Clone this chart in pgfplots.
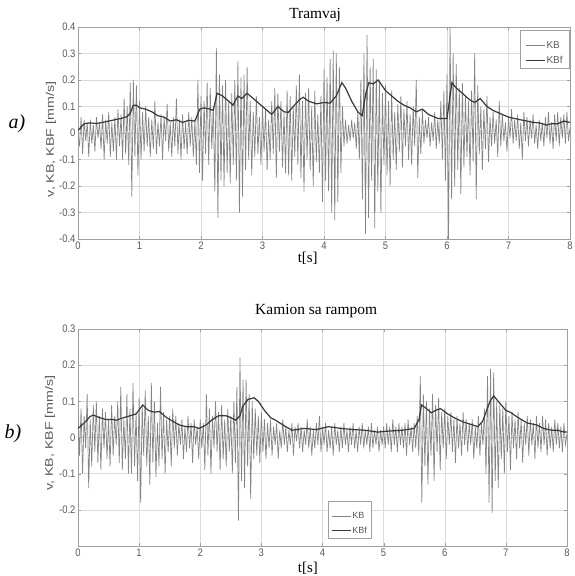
\documentclass[border=0pt]{standalone}
\usepackage{pgfplots}
\pgfplotsset{compat=1.18}
\usepackage{graphicx}
\usepackage{fontspec}
\setmainfont{Liberation Serif}
\setsansfont{Liberation Sans}

\definecolor{kbgray}{gray}{0.52}
\definecolor{kbfdark}{gray}{0.22}
\definecolor{gridgray}{gray}{0.86}
\definecolor{tickgray}{gray}{0.35}

\pgfplotsset{
  vib/.style={
    scale only axis,
    xmin=0, xmax=8, xtick={0,1,2,3,4,5,6,7,8},
    grid=major, major grid style={gridgray, line width=0.5pt},
    axis line style={gray!75}, tick style={gray!75}, tick align=inside,
    major tick length=3bp,
    /pgf/number format/assume math mode=true,
    ticklabel style={font=\sffamily\fontsize{9.5}{10}\selectfont, text=tickgray},
    xticklabel={\scalebox{1}[1.15]{\pgfmathprintnumber{\tick}}},
    yticklabel={\scalebox{1}[1.15]{\pgfmathprintnumber{\tick}}},
    xticklabel style={yshift=1bp},
    yticklabel style={xshift=1bp},
    title style={font=\fontsize{15.5}{17}\selectfont},
    xlabel={t[s]},
    xlabel style={font=\fontsize{15}{16}\selectfont, anchor=center},
    ylabel={\scalebox{1.3}[1]{v, KB, KBF [mm/s]}},
    ylabel style={font=\sffamily\fontsize{11}{12}\selectfont, text=tickgray, anchor=center},
    legend cell align=left,
    legend image code/.code={\draw[##1] (0bp,0bp) -- (19bp,0bp);},
    legend style={draw=gray!75, text=tickgray, inner xsep=5bp, inner ysep=2bp,
      row sep=4bp, nodes={inner sep=1.2bp}},
  },
  kb/.style={color=kbgray, line width=0.7pt, mark=none},
  kbf/.style={color=kbfdark, line width=1.2pt, mark=none},
}

\begin{document}
\begin{tikzpicture}
\useasboundingbox (0,0) rectangle (575bp,-576bp);

% ---------------- a) Tramvaj ----------------
\begin{axis}[vib,
  at={(78bp,-27bp)}, anchor=north west,
  width=492bp, height=212bp,
  ymin=-0.4, ymax=0.4,
  ytick={-0.4,-0.3,-0.2,-0.1,0,0.1,0.2,0.3,0.4},
  title={Tramvaj},
  title style={at={(axis description cs:0.482,1)}, anchor=center, yshift=6bp},
  xlabel style={at={(axis description cs:0.467,0)}, yshift=-19bp},
  ylabel style={at={(axis description cs:-0.055,0.47)}},
  legend style={at={(0.998,0.986)}, anchor=north east,
    font=\sffamily\fontsize{10}{11}\selectfont},
]
\addlegendimage{empty legend}\addlegendentry{}
\addplot[kb] coordinates {
(0,0.00)(0.025,-0.05)(0.05,0.06)(0.075,-0.08)(0.1,0.05)(0.125,-0.03)(0.15,0.04)(0.175,-0.09)
(0.2,0.05)(0.225,-0.04)(0.25,0.03)(0.275,-0.07)(0.3,0.06)(0.325,-0.02)(0.35,0.04)(0.375,-0.06)
(0.4,0.07)(0.425,-0.10)(0.45,0.05)(0.475,-0.04)(0.5,0.08)(0.525,-0.09)(0.55,0.04)(0.575,-0.07)
(0.6,0.06)(0.625,-0.10)(0.65,0.09)(0.675,-0.05)(0.7,0.07)(0.725,-0.10)(0.75,0.13)(0.775,-0.08)
(0.8,0.10)(0.825,-0.12)(0.85,0.19)(0.875,-0.24)(0.9,0.20)(0.925,-0.09)(0.95,0.18)(0.975,-0.16)
(1,0.12)(1.025,-0.10)(1.05,0.08)(1.075,-0.07)(1.1,0.10)(1.125,-0.05)(1.15,0.06)(1.175,-0.09)
(1.2,0.05)(1.225,-0.06)(1.25,0.12)(1.275,-0.08)(1.3,0.04)(1.325,-0.05)(1.35,0.07)(1.375,-0.10)
(1.4,0.06)(1.425,-0.03)(1.45,0.11)(1.475,-0.07)(1.5,0.04)(1.525,-0.09)(1.55,0.06)(1.575,-0.05)
(1.6,0.13)(1.625,-0.08)(1.65,0.05)(1.675,-0.10)(1.7,0.07)(1.725,-0.06)(1.75,0.04)(1.775,-0.08)
(1.8,0.08)(1.825,-0.05)(1.85,0.06)(1.875,-0.09)(1.9,0.05)(1.925,-0.12)(1.95,0.20)(1.975,-0.15)
(2,0.14)(2.025,-0.18)(2.05,0.12)(2.075,-0.08)(2.1,0.19)(2.125,-0.12)(2.15,0.17)(2.175,-0.06)
(2.2,0.10)(2.225,-0.22)(2.25,0.32)(2.275,-0.32)(2.3,0.22)(2.325,-0.18)(2.35,0.18)(2.375,-0.20)
(2.4,0.20)(2.425,-0.15)(2.45,0.12)(2.475,-0.19)(2.5,0.15)(2.525,-0.12)(2.55,0.20)(2.575,-0.18)
(2.6,0.27)(2.625,-0.30)(2.65,0.21)(2.675,-0.24)(2.7,0.22)(2.725,-0.14)(2.75,0.25)(2.775,-0.10)
(2.8,0.12)(2.825,-0.16)(2.85,0.08)(2.875,-0.09)(2.9,0.14)(2.925,-0.08)(2.95,0.06)(2.975,-0.12)
(3,0.10)(3.025,-0.07)(3.05,0.09)(3.075,-0.14)(3.1,0.05)(3.125,-0.10)(3.15,0.12)(3.175,-0.08)
(3.2,0.17)(3.225,-0.17)(3.25,0.15)(3.275,-0.07)(3.3,0.12)(3.325,-0.13)(3.35,0.08)(3.375,-0.15)
(3.4,0.16)(3.425,-0.16)(3.45,0.14)(3.475,-0.18)(3.5,0.10)(3.525,-0.09)(3.55,0.18)(3.575,-0.12)
(3.6,0.22)(3.625,-0.17)(3.65,0.12)(3.675,-0.22)(3.7,0.15)(3.725,-0.10)(3.75,0.17)(3.775,-0.14)
(3.8,0.10)(3.825,-0.20)(3.85,0.16)(3.875,-0.11)(3.9,0.07)(3.925,-0.15)(3.95,0.14)(3.975,-0.26)
(4,0.24)(4.025,-0.18)(4.05,0.21)(4.075,-0.22)(4.1,0.28)(4.125,-0.30)(4.15,0.31)(4.175,-0.33)
(4.2,0.30)(4.225,-0.26)(4.25,0.25)(4.275,-0.15)(4.3,0.10)(4.325,-0.05)(4.35,0.05)(4.375,-0.04)
(4.4,0.03)(4.425,-0.03)(4.45,0.05)(4.475,-0.02)(4.5,0.04)(4.525,-0.06)(4.55,0.08)(4.575,-0.10)
(4.6,0.20)(4.625,-0.25)(4.65,0.30)(4.675,-0.38)(4.7,0.37)(4.725,-0.32)(4.75,0.25)(4.775,-0.18)
(4.8,0.28)(4.825,-0.36)(4.85,0.24)(4.875,-0.22)(4.9,0.20)(4.925,-0.30)(4.95,0.15)(4.975,-0.12)
(5,0.18)(5.025,-0.16)(5.05,0.12)(5.075,-0.20)(5.1,0.16)(5.125,-0.10)(5.15,0.08)(5.175,-0.14)
(5.2,0.11)(5.225,-0.07)(5.25,0.14)(5.275,-0.13)(5.3,0.09)(5.325,-0.05)(5.35,0.12)(5.375,-0.10)
(5.4,0.07)(5.425,-0.12)(5.45,0.10)(5.475,-0.05)(5.5,0.20)(5.525,-0.17)(5.55,0.06)(5.575,-0.08)
(5.6,0.09)(5.625,-0.04)(5.65,0.05)(5.675,-0.02)(5.7,0.06)(5.725,-0.05)(5.75,0.04)(5.775,-0.03)
(5.8,0.08)(5.825,-0.06)(5.85,0.05)(5.875,-0.04)(5.9,0.12)(5.925,-0.10)(5.95,0.16)(5.975,-0.18)
(6,0.22)(6.025,-0.40)(6.05,0.40)(6.075,-0.25)(6.1,0.30)(6.125,-0.20)(6.15,0.26)(6.175,-0.14)
(6.2,0.17)(6.225,-0.23)(6.25,0.19)(6.275,-0.13)(6.3,0.14)(6.325,-0.09)(6.35,0.12)(6.375,-0.16)
(6.4,0.16)(6.425,-0.11)(6.45,0.30)(6.475,-0.25)(6.5,0.18)(6.525,-0.08)(6.55,0.10)(6.575,-0.14)
(6.6,0.09)(6.625,-0.06)(6.65,0.14)(6.675,-0.11)(6.7,0.06)(6.725,-0.05)(6.75,0.08)(6.775,-0.04)
(6.8,0.05)(6.825,-0.09)(6.85,0.12)(6.875,-0.05)(6.9,0.07)(6.925,-0.03)(6.95,0.04)(6.975,-0.07)
(7,0.06)(7.025,-0.02)(7.05,0.09)(7.075,-0.04)(7.1,0.05)(7.125,-0.03)(7.15,0.07)(7.175,-0.06)
(7.2,0.04)(7.225,-0.10)(7.25,0.08)(7.275,-0.03)(7.3,0.06)(7.325,-0.05)(7.35,0.05)(7.375,-0.02)
(7.4,0.07)(7.425,-0.04)(7.45,0.03)(7.475,-0.06)(7.5,0.05)(7.525,-0.03)(7.55,0.04)(7.575,-0.05)
(7.6,0.06)(7.625,-0.02)(7.65,0.08)(7.675,-0.04)(7.7,0.04)(7.725,-0.06)(7.75,0.07)(7.775,-0.03)
(7.8,0.08)(7.825,-0.05)(7.85,0.06)(7.875,-0.02)(7.9,0.07)(7.925,-0.04)(7.95,0.08)(7.975,-0.03)
(8,0.02)
};
\addlegendentry{KB}
\addplot[kbf] coordinates {
(0,0.01)(0.1,0.035)(0.2,0.038)(0.3,0.036)(0.4,0.04)(0.5,0.045)(0.6,0.05)(0.7,0.055)
(0.8,0.062)(0.85,0.075)(0.9,0.105)(0.95,0.105)(1.0,0.095)(1.1,0.09)(1.2,0.08)(1.3,0.065)
(1.4,0.06)(1.5,0.045)(1.6,0.05)(1.7,0.04)(1.8,0.048)(1.9,0.045)(1.98,0.09)(2.05,0.095)
(2.15,0.09)(2.2,0.085)(2.26,0.15)(2.35,0.14)(2.45,0.12)(2.52,0.105)(2.6,0.14)(2.66,0.13)
(2.75,0.15)(2.85,0.13)(2.95,0.11)(3.05,0.09)(3.15,0.07)(3.25,0.1)(3.35,0.08)(3.42,0.078)
(3.5,0.1)(3.6,0.125)(3.66,0.135)(3.75,0.12)(3.88,0.11)(4.0,0.115)(4.1,0.113)(4.2,0.14)
(4.29,0.19)(4.35,0.17)(4.45,0.12)(4.55,0.08)(4.62,0.065)(4.68,0.15)(4.73,0.19)(4.8,0.185)
(4.88,0.2)(5.0,0.16)(5.1,0.14)(5.2,0.12)(5.3,0.105)(5.4,0.095)(5.5,0.08)(5.6,0.09)
(5.7,0.07)(5.85,0.055)(6.0,0.055)(6.08,0.19)(6.15,0.17)(6.25,0.15)(6.37,0.125)(6.45,0.115)
(6.54,0.13)(6.65,0.1)(6.75,0.085)(6.9,0.07)(7.0,0.06)(7.19,0.05)(7.3,0.045)(7.4,0.04)
(7.5,0.038)(7.62,0.03)(7.7,0.035)(7.8,0.035)(7.9,0.045)(8.0,0.04)
};
\addlegendentry{KBf}
\end{axis}

% ---------------- b) Kamion sa rampom ----------------
\begin{axis}[vib,
  at={(78bp,-329bp)}, anchor=north west,
  width=489bp, height=217bp,
  ymin=-0.3, ymax=0.3,
  ytick={-0.2,-0.1,0,0.1,0.2,0.3},
  title={Kamion sa rampom},
  title style={at={(axis description cs:0.487,1)}, anchor=center, yshift=12bp},
  xlabel style={at={(axis description cs:0.470,0)}, yshift=-22bp},
  ylabel style={at={(axis description cs:-0.057,0.52)}},
  legend style={at={(0.511,0.037)}, anchor=south west,
    font=\sffamily\fontsize{9}{10}\selectfont, inner xsep=3bp},
]
\addlegendimage{empty legend}\addlegendentry{}
\addplot[kb] coordinates {
(0,0.07)(0.025,-0.05)(0.05,0.08)(0.075,-0.10)(0.1,0.06)(0.125,-0.03)(0.15,0.12)(0.175,-0.14)
(0.2,0.05)(0.225,-0.08)(0.25,0.09)(0.275,-0.04)(0.3,0.10)(0.325,-0.07)(0.35,0.06)(0.375,-0.09)
(0.4,0.08)(0.425,-0.03)(0.45,0.07)(0.475,-0.06)(0.5,0.05)(0.525,-0.08)(0.55,0.09)(0.575,-0.05)
(0.6,0.06)(0.625,-0.02)(0.65,0.10)(0.675,-0.07)(0.7,0.14)(0.725,-0.09)(0.75,0.05)(0.775,-0.06)
(0.8,0.12)(0.825,-0.10)(0.85,0.08)(0.875,-0.10)(0.9,0.15)(0.925,-0.08)(0.95,0.07)(0.975,-0.12)
(1,0.11)(1.025,-0.18)(1.05,0.09)(1.075,-0.05)(1.1,0.13)(1.125,-0.08)(1.15,0.06)(1.175,-0.13)
(1.2,0.15)(1.225,-0.07)(1.25,0.10)(1.275,-0.11)(1.3,0.04)(1.325,-0.08)(1.35,0.14)(1.375,-0.06)
(1.4,0.07)(1.425,-0.10)(1.45,0.05)(1.475,-0.04)(1.5,0.06)(1.525,-0.08)(1.55,0.08)(1.575,-0.03)
(1.6,0.06)(1.625,-0.05)(1.65,0.04)(1.675,-0.02)(1.7,0.05)(1.725,-0.06)(1.75,0.03)(1.775,-0.04)
(1.8,0.06)(1.825,-0.03)(1.85,0.04)(1.875,-0.07)(1.9,0.05)(1.925,-0.02)(1.95,0.03)(1.975,-0.06)
(2,0.05)(2.025,-0.03)(2.05,0.04)(2.075,-0.09)(2.1,0.12)(2.125,-0.05)(2.15,0.08)(2.175,-0.10)
(2.2,0.06)(2.225,-0.03)(2.25,0.10)(2.275,-0.04)(2.3,0.07)(2.325,-0.09)(2.35,0.09)(2.375,-0.06)
(2.4,0.05)(2.425,-0.08)(2.45,0.08)(2.475,-0.04)(2.5,0.06)(2.525,-0.10)(2.55,0.10)(2.575,-0.07)
(2.6,0.14)(2.625,-0.23)(2.65,0.22)(2.675,-0.12)(2.7,0.16)(2.725,-0.14)(2.75,0.16)(2.775,-0.08)
(2.8,0.12)(2.825,-0.17)(2.85,0.10)(2.875,-0.06)(2.9,0.08)(2.925,-0.05)(2.95,0.06)(2.975,-0.07)
(3,0.07)(3.025,-0.04)(3.05,0.05)(3.075,-0.06)(3.1,0.04)(3.125,-0.03)(3.15,0.05)(3.175,-0.05)
(3.2,0.03)(3.225,-0.02)(3.25,0.04)(3.275,-0.06)(3.3,0.02)(3.325,-0.03)(3.35,0.05)(3.375,-0.02)
(3.4,0.03)(3.425,-0.04)(3.45,0.02)(3.475,-0.02)(3.5,0.04)(3.525,-0.05)(3.55,0.03)(3.575,-0.01)
(3.6,0.04)(3.625,-0.03)(3.65,0.03)(3.675,-0.04)(3.7,0.02)(3.725,-0.02)(3.75,0.05)(3.775,-0.03)
(3.8,0.03)(3.825,-0.05)(3.85,0.02)(3.875,-0.03)(3.9,0.04)(3.925,-0.02)(3.95,0.06)(3.975,-0.04)
(4,0.03)(4.025,-0.02)(4.05,0.04)(4.075,-0.04)(4.1,0.02)(4.125,-0.03)(4.15,0.03)(4.175,-0.05)
(4.2,0.04)(4.225,-0.02)(4.25,0.02)(4.275,-0.04)(4.3,0.03)(4.325,-0.03)(4.35,0.04)(4.375,-0.02)
(4.4,0.02)(4.425,-0.04)(4.45,0.03)(4.475,-0.02)(4.5,0.04)(4.525,-0.03)(4.55,0.02)(4.575,-0.04)
(4.6,0.03)(4.625,-0.02)(4.65,0.04)(4.675,-0.03)(4.7,0.02)(4.725,-0.02)(4.75,0.03)(4.775,-0.04)
(4.8,0.04)(4.825,-0.03)(4.85,0.02)(4.875,-0.02)(4.9,0.03)(4.925,-0.04)(4.95,0.02)(4.975,-0.02)
(5,0.03)(5.025,-0.03)(5.05,0.04)(5.075,-0.02)(5.1,0.03)(5.125,-0.04)(5.15,0.05)(5.175,-0.02)
(5.2,0.03)(5.225,-0.04)(5.25,0.04)(5.275,-0.02)(5.3,0.03)(5.325,-0.03)(5.35,0.04)(5.375,-0.05)
(5.4,0.05)(5.425,-0.02)(5.45,0.03)(5.475,-0.04)(5.5,0.04)(5.525,-0.03)(5.55,0.06)(5.575,-0.05)
(5.6,0.17)(5.625,-0.18)(5.65,0.12)(5.675,-0.08)(5.7,0.10)(5.725,-0.13)(5.75,0.08)(5.775,-0.05)
(5.8,0.12)(5.825,-0.12)(5.85,0.09)(5.875,-0.04)(5.9,0.11)(5.925,-0.09)(5.95,0.07)(5.975,-0.03)
(6,0.08)(6.025,-0.06)(6.05,0.06)(6.075,-0.02)(6.1,0.07)(6.125,-0.04)(6.15,0.05)(6.175,-0.07)
(6.2,0.06)(6.225,-0.03)(6.25,0.04)(6.275,-0.05)(6.3,0.07)(6.325,-0.02)(6.35,0.05)(6.375,-0.04)
(6.4,0.04)(6.425,-0.02)(6.45,0.05)(6.475,-0.06)(6.5,0.03)(6.525,-0.03)(6.55,0.06)(6.575,-0.05)
(6.6,0.04)(6.625,-0.02)(6.65,0.08)(6.675,-0.10)(6.7,0.17)(6.725,-0.18)(6.75,0.19)(6.775,-0.21)
(6.8,0.18)(6.825,-0.12)(6.85,0.10)(6.875,-0.14)(6.9,0.09)(6.925,-0.06)(6.95,0.08)(6.975,-0.10)
(7,0.10)(7.025,-0.04)(7.05,0.06)(7.075,-0.09)(7.1,0.07)(7.125,-0.03)(7.15,0.05)(7.175,-0.06)
(7.2,0.07)(7.225,-0.03)(7.25,0.05)(7.275,-0.07)(7.3,0.04)(7.325,-0.02)(7.35,0.06)(7.375,-0.05)
(7.4,0.05)(7.425,-0.02)(7.45,0.04)(7.475,-0.06)(7.5,0.06)(7.525,-0.03)(7.55,0.04)(7.575,-0.04)
(7.6,0.06)(7.625,-0.02)(7.65,0.05)(7.675,-0.05)(7.7,0.04)(7.725,-0.03)(7.75,0.03)(7.775,-0.04)
(7.8,0.05)(7.825,-0.02)(7.85,0.04)(7.875,-0.03)(7.9,0.03)(7.925,-0.04)(7.95,0.04)(7.975,-0.02)
(8,0.01)
};
\addlegendentry{KB}
\addplot[kbf] coordinates {
(0,0.025)(0.1,0.04)(0.2,0.058)(0.25,0.062)(0.35,0.055)(0.45,0.05)(0.55,0.05)(0.63,0.048)
(0.75,0.055)(0.85,0.06)(0.95,0.065)(1.06,0.09)(1.15,0.075)(1.25,0.07)(1.33,0.072)(1.45,0.055)
(1.55,0.045)(1.65,0.035)(1.77,0.03)(1.9,0.03)(1.98,0.025)(2.1,0.035)(2.2,0.05)(2.3,0.06)
(2.42,0.06)(2.5,0.055)(2.58,0.048)(2.65,0.06)(2.69,0.085)(2.78,0.105)(2.88,0.11)(2.95,0.1)
(3.05,0.075)(3.15,0.055)(3.23,0.048)(3.35,0.035)(3.5,0.02)(3.7,0.025)(3.9,0.022)(4.1,0.03)
(4.3,0.025)(4.5,0.022)(4.7,0.02)(4.9,0.015)(5.1,0.018)(5.3,0.02)(5.5,0.025)(5.58,0.05)
(5.62,0.09)(5.7,0.08)(5.78,0.068)(5.85,0.075)(5.93,0.08)(6.05,0.065)(6.15,0.055)(6.3,0.043)
(6.45,0.035)(6.54,0.03)(6.62,0.045)(6.67,0.068)(6.74,0.1)(6.8,0.115)(6.9,0.095)(7.0,0.075)
(7.07,0.07)(7.2,0.055)(7.35,0.04)(7.5,0.035)(7.62,0.025)(7.75,0.02)(7.85,0.02)(7.95,0.015)
(8.0,0.015)
};
\addlegendentry{KBf}
\end{axis}

\node[font=\itshape\fontsize{20}{22}\selectfont] at (17bp,-124bp) {a)};
\node[font=\itshape\fontsize{20}{22}\selectfont] at (13bp,-434bp) {b)};
\end{tikzpicture}
\end{document}
